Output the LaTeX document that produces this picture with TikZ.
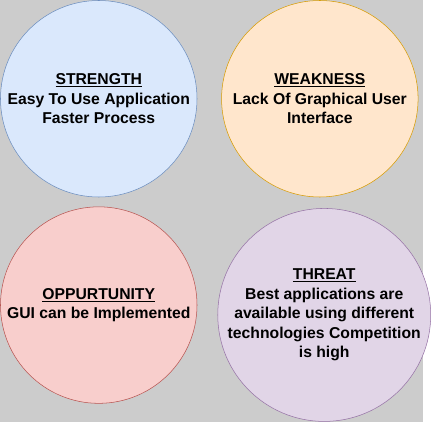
\documentclass[tikz,border=0pt]{standalone}
\usepackage{fontspec}
\setmainfont{Liberation Sans}
\usetikzlibrary{shapes}
\definecolor{bggray}{HTML}{CCCCCC}
\definecolor{bluefill}{HTML}{DAE8FC}
\definecolor{bluedraw}{HTML}{6C8EBF}
\definecolor{orangefill}{HTML}{FFE6CC}
\definecolor{orangedraw}{HTML}{D79B00}
\definecolor{redfill}{HTML}{F8CECC}
\definecolor{reddraw}{HTML}{B85450}
\definecolor{purplefill}{HTML}{E1D5E7}
\definecolor{purpledraw}{HTML}{9673A6}

\begin{document}
\begin{tikzpicture}[x=0.75pt, y=-0.75pt,
				   every node/.style={circle, draw, minimum size=150pt, inner sep=0pt, align=center,
				   font=\fontsize{12}{14.8}\selectfont\bfseries}]
\fill[bggray] (0,0) rectangle (431,429);

\node[draw=bluedraw, fill=bluefill] (S) at (100.5,100.5) {\underline{STRENGTH}\\Easy To Use Application\\Faster Process};
\node[draw=orangedraw, fill=orangefill] (W) at (325.5,100.5) {\underline{WEAKNESS}\\Lack Of Graphical User\\Interface};
\node[draw=reddraw, fill=redfill] (O) at (100.5,310.5) {\underline{OPPURTUNITY}\\GUI can be Implemented};
\node[draw=purpledraw, fill=purplefill] (T) at (330,320.5) {\underline{THREAT}\\Best applications are\\available using different\\technologies Competition\\is high};
\end{tikzpicture}
\end{document}
